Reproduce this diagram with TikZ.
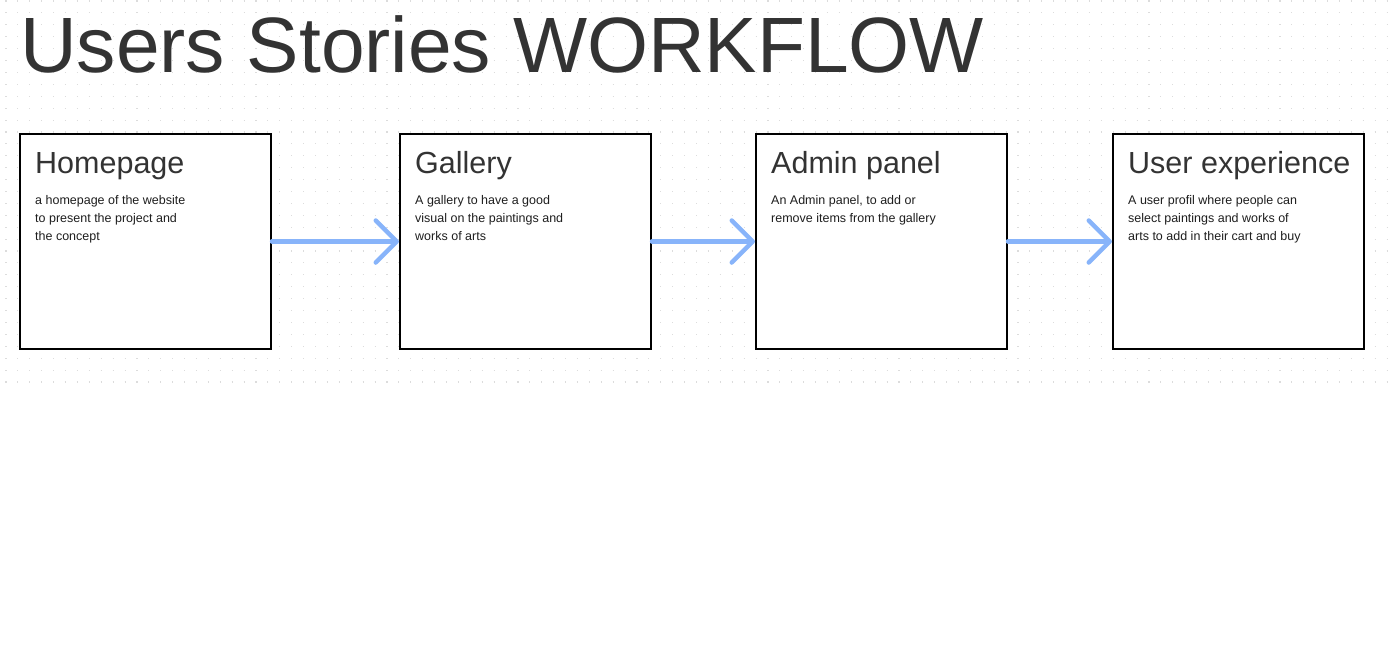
\documentclass[tikz,border=0pt]{standalone}
\usepackage{fontspec}
\setmainfont{Liberation Sans}
\usetikzlibrary{arrows.meta,positioning}
\definecolor{inkgray}{HTML}{333333}
\definecolor{bodyink}{HTML}{1E1E1E}
\definecolor{flowblue}{HTML}{88B4FA}
\definecolor{dotgray}{HTML}{DCDCDC}

\begin{document}
\begin{tikzpicture}[
  x=1pt, y=-1pt,
  card/.style={draw=black, line width=2pt, fill=white, minimum width=251pt, minimum height=215pt, inner sep=0pt, anchor=north west},
  cardtitle/.style={anchor=base west, inner sep=0pt, text=inkgray, font=\fontsize{30.5}{36}\selectfont},
  cardtext/.style={anchor=north west, inner sep=0pt, align=left, text=bodyink, font=\fontsize{12.5}{18}\selectfont},
  flow/.style={draw=flowblue, line width=4.5pt, line cap=round, -{Straight Barb[length=21pt,width=42pt,round]}},
  node distance=127pt
]
\useasboundingbox (0,0) rectangle (1392,648);
% dot grid
\foreach \r in {0,...,32}
  \draw[dotgray, line width=1.1pt, dash pattern=on 1.1pt off 10.806pt] (5.45,{1+11.906*\r}) -- (1392,{1+11.906*\r});

\node[anchor=base west, inner sep=0pt, text=inkgray, font=\fontsize{78.5}{90}\selectfont] (title) at (20,72) {Users Stories WORKFLOW};

\node[card] (home) at (19,133) {};
\node[card, right=127pt of home] (gallery) {};
\node[card, right=103pt of gallery] (admin) {};
\node[card, right=104pt of admin] (userexp) {};

\node[cardtitle] (hometitle) at ([xshift=16pt,yshift=-40pt]home.north west) {Homepage};
\node[cardtext] (hometext) at ([xshift=16pt,yshift=-62pt]home.north west) {a homepage of the website\\to present the project and\\the concept};

\node[cardtitle] (gallerytitle) at ([xshift=16pt,yshift=-40pt]gallery.north west) {Gallery};
\node[cardtext] (gallerytext) at ([xshift=16pt,yshift=-62pt]gallery.north west) {A gallery to have a good\\visual on the paintings and\\works of arts};

\node[cardtitle] (admintitle) at ([xshift=16pt,yshift=-40pt]admin.north west) {Admin panel};
\node[cardtext] (admintext) at ([xshift=16pt,yshift=-62pt]admin.north west) {An Admin panel, to add or\\remove items from the gallery};

\node[cardtitle] (userexptitle) at ([xshift=16pt,yshift=-40pt]userexp.north west) {User experience};
\node[cardtext] (userexptext) at ([xshift=16pt,yshift=-62pt]userexp.north west) {A user profil where people can\\select paintings and works of\\arts to add in their cart and buy};

\draw[flow] (home) -- (gallery);
\draw[flow] (gallery) -- (admin);
\draw[flow] (admin) -- (userexp);
\end{tikzpicture}
\end{document}
